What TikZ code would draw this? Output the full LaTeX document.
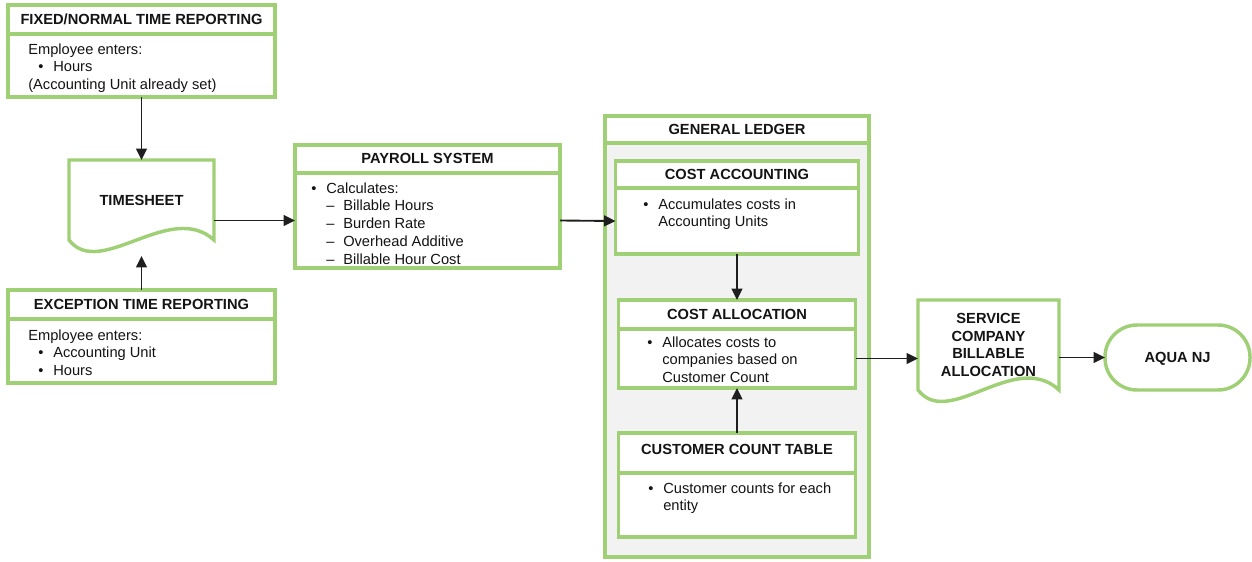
\documentclass[tikz,border=0pt]{standalone}
\usepackage{fontspec}
\setmainfont{Liberation Sans}
\usetikzlibrary{positioning,arrows.meta}
\definecolor{boxgreen}{RGB}{160,208,118}
\definecolor{ledgergray}{RGB}{242,242,242}
\definecolor{linegray}{RGB}{30,30,30}
\newcommand{\bul}{\makebox[11.25pt][l]{\textbullet}}
\newcommand{\ind}{\hspace*{11.25pt}}
\newcommand{\dsh}{\makebox[12.75pt][l]{--}}
\begin{document}
\begin{tikzpicture}[x=0.75pt, y=-0.75pt,
  every node/.style={font=\fontsize{11}{13.3}\selectfont, text=black!92},
  hdr/.style={draw=boxgreen, line width=2.6pt, fill=white, outer sep=0pt,
    font=\fontsize{11}{13.3}\selectfont\bfseries, text height=8pt, text depth=1pt},
  bodybox/.style={draw=boxgreen, line width=2.6pt, fill=white, outer sep=0pt},
  txt/.style={anchor=north west, inner sep=0pt, align=left},
  docbox/.style={outer sep=0pt, inner sep=0pt, align=center,
    font=\fontsize{11}{13.3}\selectfont\bfseries},
  docline/.style={draw=boxgreen, line width=2.6pt},
  arr/.style={-{Triangle[length=8.5pt,width=8pt]}, line width=1.4pt, draw=linegray}]
  \useasboundingbox (0,0) rectangle (1252,561);

  % left column
  \node[hdr, minimum width=200.25pt, minimum height=21.75pt] (fixedT) at (141.5,19.5) {FIXED/NORMAL TIME REPORTING};
  \node[bodybox, minimum width=200.25pt, minimum height=47.25pt, below=0pt of fixedT] (fixedB) {};
  \node[txt] (fixedX) at (28,43.3) {Employee enters:\\\hspace*{7.5pt}\bul Hours\\(Accounting Unit already set)};

  \node[docbox, minimum width=108.75pt, minimum height=60pt] (ts) at (141.5,200) {TIMESHEET};
  \draw[docline] (ts.south west) -- (ts.north west) -- (ts.north east) -- (ts.south east)
    .. controls +(-44,-40) and +(31,40) .. (ts.south west) -- cycle;

  \node[hdr, minimum width=200.25pt, minimum height=21.75pt] (excT) at (141.5,304.5) {EXCEPTION TIME REPORTING};
  \node[bodybox, minimum width=200.25pt, minimum height=48pt, below=0pt of excT] (excB) {};
  \node[txt] (excX) at (28,329.3) {Employee enters:\\\hspace*{7.5pt}\bul Accounting Unit\\\hspace*{7.5pt}\bul Hours};

  % payroll
  \node[hdr, minimum width=198.75pt, minimum height=21pt] (payT) at (427.5,159) {PAYROLL SYSTEM};
  \node[bodybox, minimum width=198.75pt, minimum height=71.25pt, below=0pt of payT] (payB) {};
  \node[txt] (payX) at (311,182.3) {\bul Calculates:\\\ind\dsh Billable Hours\\\ind\dsh Burden Rate\\\ind\dsh Overhead Additive\\\ind\dsh Billable Hour Cost};

  % general ledger
  \node[hdr, minimum width=198pt, minimum height=20.25pt] (glT) at (737,129.5) {GENERAL LEDGER};
  \node[bodybox, fill=ledgergray, minimum width=198pt, minimum height=310.5pt, below=0pt of glT] (glB) {};

  \node[hdr, minimum width=182.25pt, minimum height=20.25pt] (caT) at (737,174.5) {COST ACCOUNTING};
  \node[bodybox, minimum width=182.25pt, minimum height=49.5pt, below=0pt of caT] (caB) {};
  \node[txt] (caX) at (643,198.3) {\bul Accumulates costs in\\\ind Accounting Units};

  \node[hdr, minimum width=177.75pt, minimum height=21.75pt] (calT) at (737,314.5) {COST ALLOCATION};
  \node[bodybox, minimum width=177.75pt, minimum height=44.25pt, below=0pt of calT] (calB) {};
  \node[txt] (calX) at (647,336.3) {\bul Allocates costs to\\\ind companies based on\\\ind Customer Count};

  \node[hdr, minimum width=177.75pt, minimum height=30pt, text depth=6pt] (ctT) at (737,453) {CUSTOMER COUNT TABLE};
  \node[bodybox, minimum width=177.75pt, minimum height=48pt, below=0pt of ctT] (ctB) {};
  \node[txt] (ctX) at (648,482.3) {\bul Customer counts for each\\\ind entity};

  % right side
  \node[docbox, minimum width=105.75pt, minimum height=67.5pt] (svc) at (988.5,345) {SERVICE\\COMPANY\\BILLABLE\\ALLOCATION};
  \draw[docline] (svc.south west) -- (svc.north west) -- (svc.north east) -- (svc.south east)
    .. controls +(-44,-41) and +(31,40) .. (svc.south west) -- cycle;

  \node[hdr, rounded corners=24pt, minimum width=108.75pt, minimum height=48.75pt] (aqua) at (1177.5,357.5) {AQUA NJ};

  % connectors
  \draw[arr] (fixedB.south) -- (ts.north);
  \draw[arr, shorten >=12pt] (excT.north) -- (ts.south);
  \draw[arr] (ts.east |- payB.west) -- (payB.west);
  \draw[arr] (payB.east) -- (caB.west);
  \draw[arr] (caB.south) -- (calT.north);
  \draw[arr] (ctT.north) -- (calB.south);
  \draw[arr] (calB.east) -- (svc.west |- calB.east);
  \draw[arr] (svc.east |- aqua.west) -- (aqua.west);
\end{tikzpicture}
\end{document}
